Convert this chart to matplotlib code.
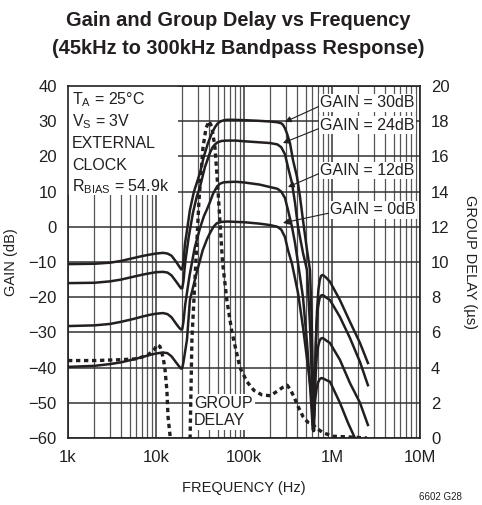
import numpy as np
import matplotlib
matplotlib.use("Agg")
import matplotlib.pyplot as plt
from matplotlib.patches import Rectangle

plt.rcParams['font.family'] = ['Liberation Sans', 'DejaVu Sans']
plt.rcParams['mathtext.fontset'] = 'custom'
plt.rcParams['mathtext.rm'] = 'Liberation Sans'

# gain curves, frequency in Hz, gain in dB
f30 = [1e3, 2e3, 3e3, 4e3, 5.5e3, 7e3, 8.5e3, 10e3, 12e3, 13.5e3, 15e3, 17e3, 18.5e3, 19.3e3, 19.9e3,
       20.5e3, 21.3e3, 22.5e3, 24.3e3, 27e3, 31.6e3, 35e3, 39e3, 43e3, 46.8e3, 50e3, 53e3, 56e3, 60e3,
       65e3, 75e3, 100e3, 150e3, 200e3, 240e3, 265e3, 277e3, 292e3, 308e3, 333e3, 360e3, 400e3,
       433e3, 468e3, 520e3, 562e3, 585e3, 605e3, 624e3, 640e3, 655e3, 675e3, 700e3, 725e3, 750e3,
       775e3, 810e3, 870e3, 948e3, 1.23e6, 1.6e6, 2.08e6, 2.56e6]
g30 = [-10.6, -10.5, -10.2, -9.7, -8.9, -8.3, -7.9, -7.6, -7.4, -7.6, -8.2, -10.0, -11.4, -12.1, -12.0,
       -10.0, -5.0, -1.0, 4.8, 10.0, 15.3, 20.0, 23.8, 26.5, 28.3, 29.3, 29.8, 30.1, 30.3,
       30.4, 30.4, 30.3, 30.1, 29.9, 29.7, 29.4, 29.0, 28.0, 26.5, 23.8, 19.0, 14.2,
       8.5, 1.9, -6.6, -12.3, -25.0, -42.0, -58.0, -45.0, -33.0, -24.0, -18.0, -15.2, -14.0,
       -13.7, -13.9, -14.6, -15.6, -20.8, -27.0, -33.0, -38.7]

f24 = [1e3, 2e3, 3e3, 4e3, 5.5e3, 7e3, 8.5e3, 10e3, 12e3, 13.5e3, 15e3, 17e3, 18.5e3, 19.3e3, 19.9e3,
       20.5e3, 21.5e3, 23.5e3, 26.3e3, 29e3, 31.6e3, 36e3, 41e3, 44e3, 46.8e3, 50e3, 56e3, 65e3,
       80e3, 100e3, 150e3, 197e3, 240e3, 265e3, 292e3, 316e3, 351e3, 380e3, 411e3, 468e3, 520e3,
       562e3, 593e3, 615e3, 632e3, 648e3, 668e3, 692e3, 720e3, 745e3, 775e3, 810e3, 870e3, 948e3,
       1.23e6, 1.6e6, 2.08e6, 2.56e6]
g24 = [-16.0, -15.9, -15.5, -15.0, -14.2, -13.6, -13.2, -12.9, -12.8, -13.0, -13.8, -15.6, -16.9, -17.5, -17.4,
       -15.5, -10.0, -3.0, 4.0, 8.5, 11.3, 17.0, 21.0, 22.6, 23.4, 24.0, 24.4, 24.5,
       24.5, 24.3, 24.0, 23.8, 23.4, 22.6, 20.6, 17.0, 12.4, 6.8, 0.0, -7.4, -12.3,
       -28.0, -45.0, -58.0, -48.0, -37.0, -28.0, -23.0, -20.5, -19.6, -19.4, -19.6, -20.2, -20.8,
       -25.6, -31.6, -38.4, -45.0]

f12 = [1e3, 2e3, 3e3, 4e3, 5.5e3, 7e3, 8.5e3, 10e3, 12e3, 13.5e3, 15e3, 17e3, 18.5e3, 19.3e3, 19.9e3,
       20.5e3, 21.5e3, 24e3, 27.5e3, 31.5e3, 35e3, 38e3, 41e3, 44.5e3, 49e3, 53e3, 58e3, 64e3, 80e3,
       100e3, 150e3, 197e3, 240e3, 265e3, 292e3, 316e3, 351e3, 380e3, 411e3, 468e3, 520e3, 562e3,
       600e3, 612e3, 630e3, 648e3, 670e3, 695e3, 720e3, 745e3, 775e3, 810e3, 870e3, 948e3,
       1.23e6, 1.6e6, 2.08e6, 2.56e6]
g12 = [-28.2, -28.0, -27.6, -27.0, -26.2, -25.5, -25.0, -24.7, -24.5, -24.8, -25.7, -27.6, -28.8, -29.2, -29.0,
       -27.0, -22.0, -14.0, -6.0, -0.5, 3.0, 5.0, 7.0, 9.4, 11.3, 12.2, 12.6, 12.7, 12.8,
       12.6, 12.0, 11.3, 10.8, 10.0, 8.2, 4.8, 0.0, -4.6, -10.3, -20.0, -33.0, -45.0,
       -56.0, -58.0, -51.0, -43.0, -37.0, -34.0, -32.5, -31.8, -31.6, -31.8, -32.4, -33.0,
       -37.8, -44.4, -50.0, -56.3]

f0 = [1e3, 2e3, 3e3, 4e3, 5.5e3, 7e3, 8.5e3, 10e3, 12e3, 13.5e3, 15e3, 17e3, 18.5e3, 19.3e3, 19.9e3,
      20.5e3, 22.5e3, 24.3e3, 29e3, 34e3, 38e3, 41e3, 45e3, 49e3, 56e3, 65e3, 100e3, 150e3, 197e3,
      240e3, 265e3, 292e3, 316e3, 351e3, 411e3, 468e3, 534e3, 593e3, 608e3, 625e3, 645e3, 668e3,
      695e3, 725e3, 750e3, 775e3, 810e3, 870e3, 948e3, 1.23e6, 1.52e6, 1.82e6]
g0 = [-39.8, -39.5, -39.0, -38.5, -37.7, -37.0, -36.4, -36.0, -35.7, -35.9, -36.8, -38.6, -39.8, -40.3, -40.1,
      -38.5, -32.0, -20.8, -13.0, -6.6, -3.5, -1.8, 0.0, 1.0, 1.4, 1.5, 1.3, 0.9, 0.5,
      0.0, -0.8, -2.9, -6.6, -10.5, -18.8, -28.5, -39.8, -49.2, -57.7, -54.0, -49.0, -46.0,
      -44.2, -43.3, -43.0, -43.0, -43.2, -43.6, -44.0, -50.0, -55.7, -60.0]

# group delay in microseconds (NaN = gap where it leaves the plot)
fd = [1e3, 2e3, 4e3, 6e3, 8e3, 9.5e3, 10.3e3, 11.1e3, 12e3, 12.6e3, 13.3e3, 13.7e3, 14.4e3, 14.8e3,
      20e3,
      24.3e3, 25.6e3, 27.7e3, 30.8e3, 34.2e3, 37e3, 40e3, 43e3, 46.8e3, 50e3, 53e3, 57e3, 64e3,
      73e3, 90e3, 108e3, 130e3, 160e3, 200e3, 245e3, 280e3, 310e3, 340e3, 365e3, 411e3, 470e3,
      530e3, 600e3, 650e3, 790e3, 1.03e6, 1.7e6, 2.5e6]
dly = [4.4, 4.4, 4.45, 4.5, 4.7, 5.0, 5.3, 5.2, 4.6, 4.0, 2.7, 1.2, 0.2, -0.5,
       np.nan,
       -0.5, 5.6, 9.0, 13.5, 16.5, 17.6, 18.0, 17.7, 16.5, 14.5, 12.5, 10.0, 7.8,
       6.0, 4.0, 3.2, 2.7, 2.45, 2.4, 2.7, 2.9, 3.0, 2.7, 2.4, 1.8, 1.2,
       0.9, 0.8, 0.6, 0.3, 0.1, 0.05, 0.0]

gain_labels = ["GAIN = 30dB", "GAIN = 24dB", "GAIN = 12dB", "GAIN = 0dB"]
label_pos = [(731e3, 35.2), (731e3, 28.9), (731e3, 16.1), (948e3, 4.8)]
arrow_tip = [(292e3, 29.8), (277e3, 23.8), (316e3, 11.3), (277e3, 1.1)]

ink = '#231f20'

fig = plt.figure(figsize=(4.82, 5.05), dpi=100)
ax = fig.add_axes([68 / 482, 1 - 438 / 505, 352 / 482, 352 / 505])
ax.set_xscale('log')
ax.set_xlim(1e3, 1e7)
ax.set_ylim(-60, 40)
ax.set_yticks(np.arange(-60, 41, 10))
ax.set_yticklabels([str(v).replace('-', '\u2212') for v in range(-60, 41, 10)])
ax.set_xticks([1e3, 1e4, 1e5, 1e6, 1e7])
ax.set_xticklabels(['1k', '10k', '100k', '1M', '10M'])
ax.xaxis.set_minor_locator(matplotlib.ticker.LogLocator(base=10, subs=np.arange(2, 10)))
ax.xaxis.set_minor_formatter(matplotlib.ticker.NullFormatter())
ax.grid(True, which='major', color='#333333', lw=1.1)
ax.grid(True, which='minor', axis='x', color='#555555', lw=0.9)
ax.set_axisbelow(True)
ax.tick_params(which='both', length=0, labelsize=12, colors=ink)
ax.tick_params(axis='y', pad=8)
ax.tick_params(axis='x', pad=9)
for s in ax.spines.values():
    s.set_linewidth(1.2)
    s.set_color(ink)

for f, g in [(f30, g30), (f24, g24), (f12, g12), (f0, g0)]:
    ax.plot(f, g, color=ink, lw=1.8, zorder=4, solid_joinstyle='round')

ax2 = ax.twinx()
ax2.set_ylim(0, 20)
ax2.set_yticks(np.arange(0, 21, 2))
ax2.tick_params(length=0, labelsize=12, colors=ink, pad=8)
for s in ax2.spines.values():
    s.set_visible(False)
ax2.plot(fd, dly, color=ink, lw=2.4, dashes=(1.3, 1.1), zorder=4)

# white box with the conditions
ax.add_patch(Rectangle((0, 0.69), 0.3125, 0.31, transform=ax.transAxes,
                       facecolor='white', edgecolor='none', zorder=2))
cond = [r'T$_\mathregular{A}$ = 25°C', r'V$_\mathregular{S}$ = 3V', 'EXTERNAL', 'CLOCK',
        r'R$_\mathregular{BIAS}$ = 54.9k']
cond_y = [100, 122, 144, 165, 187]
for t, yp in zip(cond, cond_y):
    ax.text(4 / 352, (438 - yp) / 352, t, transform=ax.transAxes, fontsize=11.5,
            ha='left', va='center', color=ink, zorder=3)

for t, p, tip in zip(gain_labels, label_pos, arrow_tip):
    ax.annotate(t, xy=tip, xytext=p, fontsize=11.5, ha='left', va='center', color=ink,
                bbox=dict(facecolor='white', edgecolor='none', pad=0.8), zorder=3,
                arrowprops=dict(arrowstyle='-|>', color=ink, lw=0.8, mutation_scale=9,
                                relpos=(0, 0.3), shrinkA=0, shrinkB=0))

ax.text(27.2e3, -52.6, 'GROUP\nDELAY', fontsize=11.5, ha='left', va='center', color=ink,
        linespacing=1.15, bbox=dict(facecolor='white', edgecolor='none', pad=1.5), zorder=3)

ax.set_xlabel('FREQUENCY (Hz)', fontsize=10.5, color=ink)
ax.set_ylabel('GAIN (dB)', fontsize=10.5, color=ink)
ax2.set_ylabel('GROUP DELAY (µs)', fontsize=10.5, color=ink, rotation=270, va='center')
ax.xaxis.set_label_coords(0.5, (438 - 481) / 352)
ax.yaxis.set_label_coords((18 - 68) / 352, 0.5)
ax2.yaxis.set_label_coords((470 - 68) / 352, 0.5)

fig.text(0.495, 1 - 20 / 505, 'Gain and Group Delay vs Frequency', fontsize=14.4,
         fontweight='bold', ha='center', va='center', color=ink)
fig.text(0.495, 1 - 48 / 505, '(45kHz to 300kHz Bandpass Response)', fontsize=14.4,
         fontweight='bold', ha='center', va='center', color=ink)
fig.text(440 / 482, 1 - 497 / 505, '6602 G28', fontsize=7, ha='center', va='center', color=ink)

fig.savefig('out.png', dpi=100)
